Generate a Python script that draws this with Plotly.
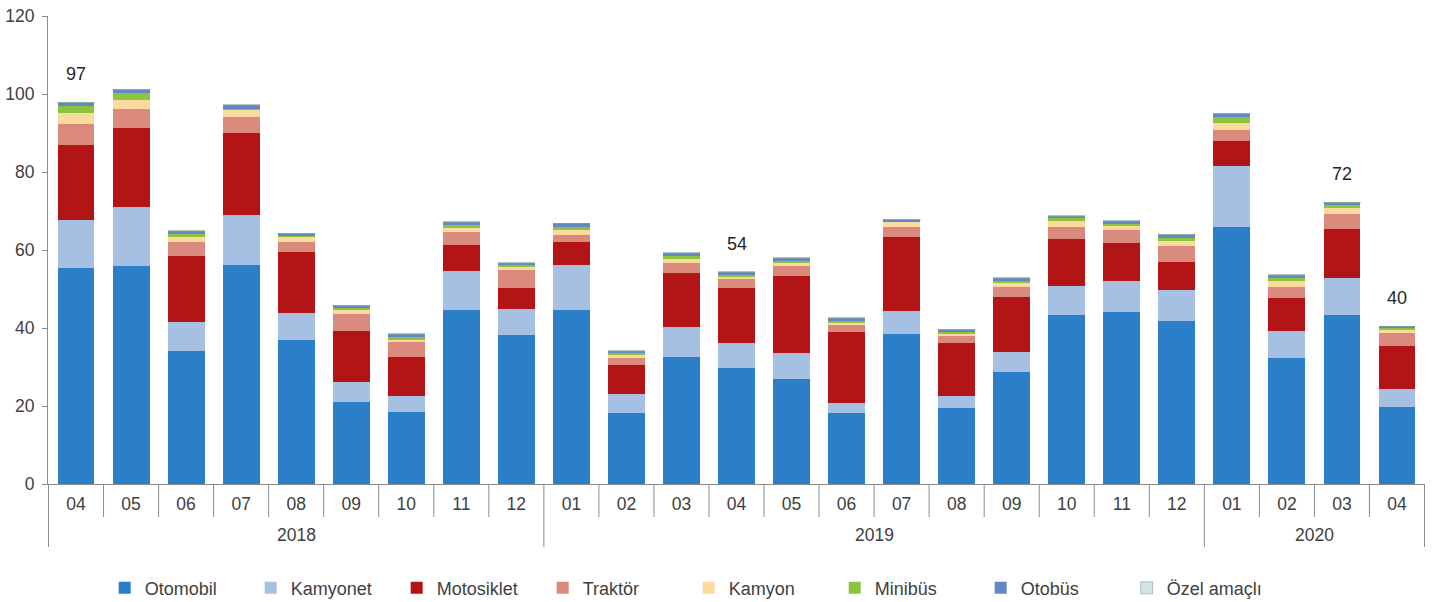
import plotly.graph_objects as go

years = ["2018"] * 9 + ["2019"] * 12 + ["2020"] * 4
months = ["04", "05", "06", "07", "08", "09", "10", "11", "12",
          "01", "02", "03", "04", "05", "06", "07", "08", "09", "10", "11", "12",
          "01", "02", "03", "04"]

otomobil = [55.4, 55.9, 34.2, 56.2, 37.0, 20.9, 18.5, 44.6, 38.2,
            44.6, 18.2, 32.6, 29.7, 26.9, 18.2, 38.5, 19.5, 28.7, 43.3, 44.2, 41.8,
            66.0, 32.2, 43.3, 19.8]
kamyonet = [12.3, 15.1, 7.3, 12.8, 6.8, 5.3, 4.1, 10.0, 6.8,
            11.6, 4.9, 7.7, 6.5, 6.8, 2.6, 5.9, 3.1, 5.1, 7.5, 7.9, 7.9,
            15.6, 7.1, 9.6, 4.5]
motosiklet = [19.2, 20.3, 17.0, 21.0, 15.6, 13.1, 9.9, 6.7, 5.2,
              5.9, 7.4, 13.8, 14.1, 19.6, 18.2, 18.9, 13.5, 14.2, 12.0, 9.6, 7.1,
              6.4, 8.5, 12.4, 11.1]
traktor = [5.4, 4.9, 3.6, 4.1, 2.7, 4.2, 4.0, 3.3, 4.7,
           1.7, 1.8, 2.6, 2.3, 2.7, 1.8, 2.7, 2.1, 2.4, 3.2, 3.4, 4.2,
           2.8, 2.6, 3.9, 3.2]
kamyon = [2.8, 2.3, 1.3, 1.8, 1.3, 1.3, 0.4, 1.0, 0.7,
          1.3, 0.8, 1.0, 0.7, 0.9, 0.7, 1.3, 0.5, 1.1, 1.4, 1.1, 1.4,
          1.7, 1.7, 1.5, 0.9]
minibus = [1.8, 1.8, 0.7, 0.3, 0.3, 0.5, 0.7, 0.8, 0.6,
           0.8, 0.5, 0.8, 0.5, 0.5, 0.5, 0.1, 0.5, 0.6, 0.7, 0.7, 0.8,
           1.7, 0.6, 0.8, 0.5]
otobus = [0.9, 0.8, 0.7, 0.9, 0.5, 0.4, 0.8, 0.7, 0.4,
          0.9, 0.5, 0.7, 0.5, 0.5, 0.5, 0.4, 0.4, 0.7, 0.6, 0.5, 0.7,
          0.7, 0.8, 0.6, 0.4]
ozel_amacli = [0.1] * 25

series_names = ["Otomobil", "Kamyonet", "Motosiklet", "Traktör", "Kamyon",
                "Minibüs", "Otobüs", "Özel amaçlı"]
series_values = [otomobil, kamyonet, motosiklet, traktor, kamyon, minibus,
                 otobus, ozel_amacli]
series_colors = ["#2a7fc8", "#a5c0e3", "#b31517", "#d98a7c", "#fcd99c",
                 "#8cc43e", "#6488c6", "#cfe6e4"]

label_index = [0, 12, 23, 24]
label_text = ["97", "54", "72", "40"]

FONT = "Liberation Sans, Arial"
AXIS_GREY = "#8c8c8c"
TEXT = "#404040"

cats = [f"{y}-{m}" for y, m in zip(years, months)]
n = len(cats)

fig = go.Figure()
for name, vals, col in zip(series_names, series_values, series_colors):
    line = dict(width=0)
    if name == "Özel amaçlı":
        line = dict(width=0.6, color="#7f9f9c")
    fig.add_trace(go.Bar(
        x=cats, y=vals, name=name,
        marker=dict(color=col, line=line),
    ))

# value labels above selected bars
totals = [sum(v[i] for v in series_values) for i in range(n)]
for idx, txt in zip(label_index, label_text):
    fig.add_annotation(
        x=cats[idx], y=totals[idx], text=txt, showarrow=False,
        yanchor="bottom", yshift=16,
        font=dict(size=18, color="#262626", family=FONT),
    )

# two-level category axis: month separators, year dividers and year labels
for i in range(n + 1):
    is_year_edge = (i == 0 or i == n or years[i] != years[i - 1])
    fig.add_shape(
        type="line", xref="x", yref="paper", ysizemode="pixel", yanchor=0,
        x0=i - 0.5, x1=i - 0.5, y0=0, y1=-63 if is_year_edge else -33,
        line=dict(color=AXIS_GREY, width=1),
    )
start = 0
for i in range(1, n + 1):
    if i == n or years[i] != years[i - 1]:
        fig.add_annotation(
            x=(start + i - 1) / 2, xref="x", y=0, yref="paper",
            yshift=-51, yanchor="middle", text=years[start], showarrow=False,
            font=dict(size=17.5, color=TEXT, family=FONT),
        )
        start = i

fig.update_layout(
    barmode="stack",
    bargap=0.33,
    width=1434, height=602,
    margin=dict(l=48, r=9, t=16, b=118, autoexpand=False),
    plot_bgcolor="white", paper_bgcolor="white",
    font=dict(family=FONT, size=17.5, color=TEXT),
    showlegend=True,
    legend=dict(
        orientation="h", xref="container", yref="container",
        x=0.073, xanchor="left", y=0.023, yanchor="middle",
        entrywidth=101, entrywidthmode="pixels", itemwidth=30,
        font=dict(size=18, color=TEXT), traceorder="normal",
    ),
)
fig.update_yaxes(
    range=[0, 120], dtick=20, showgrid=False, zeroline=False,
    showline=True, linecolor=AXIS_GREY, linewidth=1,
    ticks="outside", ticklen=5, tickcolor=AXIS_GREY,
    ticklabelstandoff=4,
    tickfont=dict(size=17.5, color=TEXT), automargin=False,
)
fig.update_xaxes(
    type="category", showgrid=False, showline=True,
    linecolor=AXIS_GREY, linewidth=1,
    tickmode="array", tickvals=cats, ticktext=months,
    ticks="", ticklabelstandoff=4, tickangle=0,
    tickfont=dict(size=17.5, color=TEXT), automargin=False,
)

fig.write_html("out.html", config={"displayModeBar": False},
               post_script="document.body.style.margin='0px';")
